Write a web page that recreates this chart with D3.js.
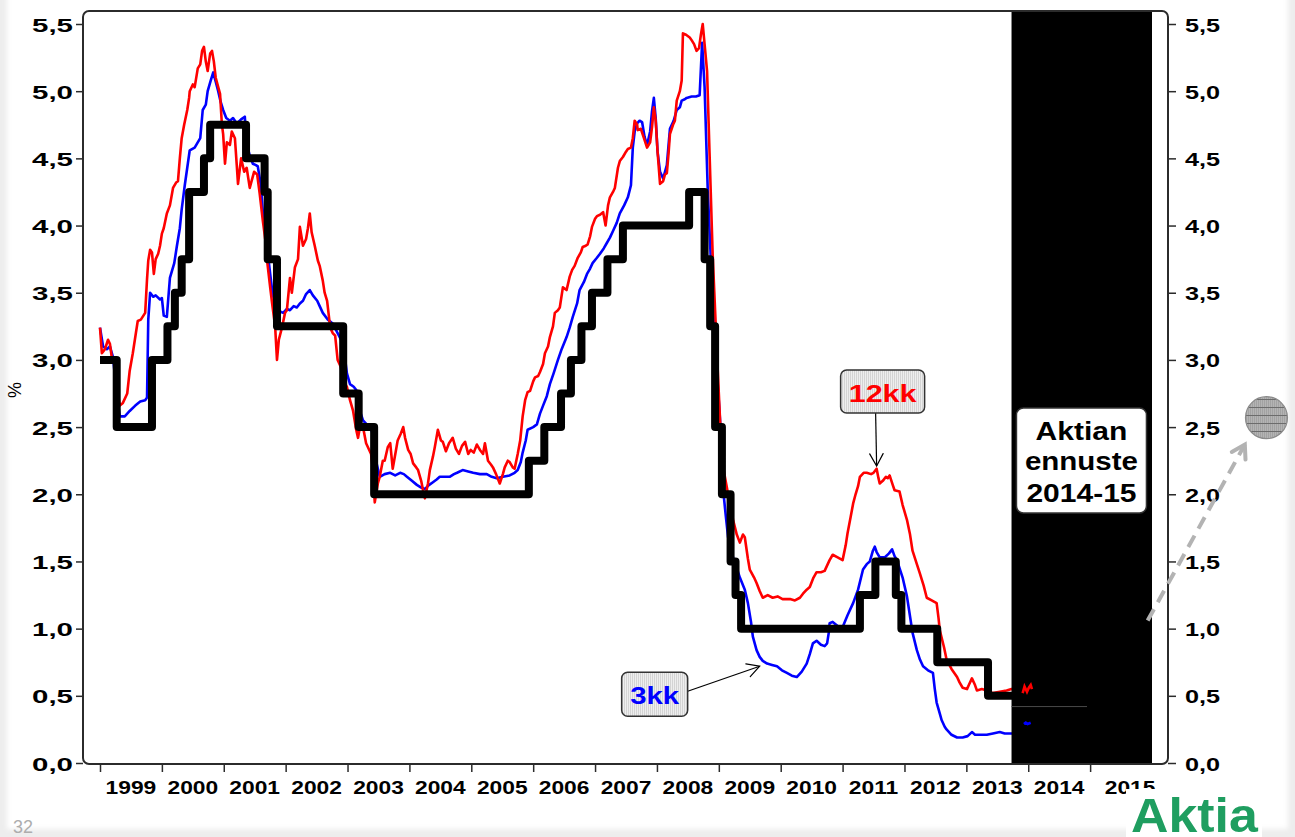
<!DOCTYPE html>
<html>
<head>
<meta charset="utf-8">
<script src="https://cdn.jsdelivr.net/npm/d3@7"></script>
<style>
  html, body { margin: 0; padding: 0; background: #eeeeee; }
  svg { display: block; }
  text { font-family: "Liberation Sans", Arial, Helvetica, sans-serif; }
</style>
</head>
<body>
<svg id="chart" width="1295" height="837"></svg>
<script>
// ---- data (time as decimal years, rates in %) ----
const years = [1999, 2000, 2001, 2002, 2003, 2004, 2005, 2006, 2007, 2008, 2009, 2010, 2011, 2012, 2013, 2014, 2015];
const yTicks = [0, 0.5, 1, 1.5, 2, 2.5, 3, 3.5, 4, 4.5, 5, 5.5];

// 3-month Euribor
const euribor3m = [
  [1999.00,3.24],[1999.05,3.10],[1999.11,3.08],[1999.16,3.10],[1999.21,3.02],[1999.27,2.75],[1999.32,2.58],[1999.40,2.58],[1999.48,2.62],[1999.57,2.66],[1999.65,2.69],[1999.73,2.70],[1999.76,2.72],[1999.78,3.30],[1999.81,3.50],[1999.86,3.47],[1999.90,3.48],[1999.97,3.45],
  [2000.00,3.46],[2000.03,3.33],[2000.08,3.32],[2000.13,3.61],[2000.20,3.72],[2000.24,3.84],[2000.29,3.98],[2000.32,4.12],[2000.37,4.30],[2000.41,4.43],[2000.45,4.56],[2000.53,4.58],[2000.62,4.65],[2000.66,4.86],[2000.71,4.90],[2000.74,5.00],[2000.79,5.08],[2000.83,5.14],[2000.87,5.07],[2000.91,5.00],[2000.95,4.92],[2000.99,4.86],
  [2001.04,4.80],[2001.10,4.78],[2001.15,4.80],[2001.21,4.76],[2001.28,4.79],[2001.34,4.81],[2001.37,4.61],[2001.42,4.52],[2001.47,4.46],[2001.52,4.45],[2001.55,4.44],[2001.60,4.30],[2001.63,4.11],[2001.67,3.97],[2001.70,3.84],[2001.75,3.64],[2001.79,3.49],[2001.84,3.40],[2001.91,3.36],[2001.96,3.35],
  [2002.02,3.38],[2002.07,3.37],[2002.13,3.40],[2002.18,3.39],[2002.23,3.42],[2002.28,3.44],[2002.33,3.49],[2002.39,3.52],[2002.44,3.48],[2002.51,3.44],[2002.55,3.40],[2002.60,3.35],[2002.68,3.30],[2002.76,3.27],[2002.84,3.20],[2002.93,3.12],[2002.99,2.90],
  [2003.04,2.82],[2003.10,2.80],[2003.15,2.77],[2003.20,2.62],[2003.25,2.55],[2003.31,2.52],[2003.36,2.50],[2003.41,2.45],[2003.46,2.25],[2003.52,2.13],[2003.60,2.15],[2003.69,2.16],[2003.77,2.14],[2003.85,2.16],[2003.91,2.15],[2003.96,2.13],
  [2004.04,2.10],[2004.12,2.07],[2004.19,2.05],[2004.25,2.04],[2004.32,2.07],[2004.38,2.09],[2004.44,2.11],[2004.49,2.13],[2004.57,2.13],[2004.65,2.13],[2004.72,2.15],[2004.77,2.16],[2004.86,2.18],[2004.95,2.17],
  [2005.03,2.16],[2005.14,2.15],[2005.25,2.15],[2005.33,2.13],[2005.41,2.12],[2005.51,2.13],[2005.62,2.14],[2005.70,2.16],[2005.75,2.18],[2005.80,2.24],[2005.83,2.31],[2005.88,2.40],[2005.91,2.48],
  [2006.00,2.50],[2006.06,2.52],[2006.11,2.60],[2006.16,2.66],[2006.22,2.73],[2006.27,2.82],[2006.33,2.90],[2006.40,3.00],[2006.46,3.08],[2006.54,3.17],[2006.59,3.24],[2006.64,3.32],[2006.71,3.42],[2006.75,3.52],[2006.82,3.58],[2006.87,3.64],[2006.92,3.68],[2006.96,3.72],
  [2007.03,3.76],[2007.08,3.79],[2007.14,3.83],[2007.19,3.87],[2007.24,3.91],[2007.29,3.96],[2007.35,4.02],[2007.40,4.09],[2007.47,4.15],[2007.53,4.21],[2007.58,4.30],[2007.61,4.58],[2007.64,4.70],[2007.68,4.76],[2007.72,4.78],[2007.76,4.77],[2007.80,4.66],[2007.84,4.60],[2007.89,4.70],[2007.92,4.85],[2007.95,4.95],[2007.98,4.80],
  [2008.01,4.55],[2008.05,4.40],[2008.10,4.35],[2008.16,4.45],[2008.21,4.72],[2008.27,4.78],[2008.32,4.86],[2008.37,4.88],[2008.40,4.93],[2008.45,4.94],[2008.48,4.95],[2008.56,4.96],[2008.63,4.96],[2008.69,4.97],[2008.73,5.36],[2008.77,5.03],[2008.82,4.28],[2008.89,3.54],[2008.95,3.05],
  [2009.02,2.55],[2009.06,2.08],[2009.11,1.85],[2009.15,1.68],[2009.23,1.53],[2009.29,1.45],[2009.34,1.38],[2009.42,1.29],[2009.47,1.19],[2009.52,1.05],[2009.55,0.94],[2009.61,0.84],[2009.66,0.79],[2009.71,0.76],[2009.78,0.74],[2009.86,0.73],[2009.94,0.72],
  [2010.02,0.69],[2010.10,0.67],[2010.18,0.65],[2010.26,0.64],[2010.34,0.68],[2010.42,0.74],[2010.47,0.81],[2010.52,0.89],[2010.58,0.91],[2010.65,0.88],[2010.71,0.87],[2010.75,0.89],[2010.78,0.98],[2010.79,1.04],[2010.84,1.05],[2010.92,1.02],
  [2011.00,1.01],[2011.08,1.10],[2011.17,1.19],[2011.25,1.29],[2011.33,1.44],[2011.39,1.48],[2011.44,1.50],[2011.49,1.58],[2011.52,1.61],[2011.55,1.57],[2011.60,1.53],[2011.68,1.53],[2011.75,1.56],[2011.80,1.59],[2011.84,1.54],[2011.88,1.51],[2011.92,1.45],[2011.97,1.38],
  [2012.04,1.24],[2012.09,1.09],[2012.13,0.97],[2012.20,0.84],[2012.25,0.77],[2012.30,0.72],[2012.38,0.69],[2012.46,0.67],[2012.49,0.55],[2012.52,0.45],[2012.57,0.37],[2012.60,0.32],[2012.65,0.27],[2012.68,0.25],[2012.76,0.21],[2012.85,0.19],[2012.94,0.19],
  [2013.02,0.20],[2013.09,0.23],[2013.14,0.21],[2013.22,0.21],[2013.33,0.21],[2013.43,0.22],[2013.54,0.23],[2013.62,0.22],[2013.70,0.22],[2013.78,0.22]
];

// 12-month Euribor
const euribor12m = [
  [1999.00,3.24],[1999.03,3.05],[1999.08,3.08],[1999.13,3.15],[1999.16,3.12],[1999.19,3.02],[1999.23,3.00],[1999.27,2.80],[1999.32,2.66],[1999.37,2.68],[1999.44,2.75],[1999.48,2.92],[1999.53,3.05],[1999.58,3.20],[1999.61,3.29],[1999.66,3.30],[1999.73,3.35],[1999.76,3.60],[1999.78,3.74],[1999.81,3.82],[1999.84,3.80],[1999.87,3.64],[1999.90,3.75],[1999.94,3.79],[1999.97,3.85],
  [2000.00,3.94],[2000.03,3.98],[2000.08,4.09],[2000.13,4.15],[2000.18,4.28],[2000.23,4.32],[2000.26,4.33],[2000.29,4.50],[2000.32,4.65],[2000.36,4.75],[2000.41,4.86],[2000.44,4.95],[2000.45,5.00],[2000.50,5.05],[2000.53,5.03],[2000.58,5.17],[2000.62,5.20],[2000.65,5.30],[2000.68,5.33],[2000.71,5.22],[2000.74,5.15],[2000.78,5.28],[2000.81,5.30],[2000.84,5.22],[2000.87,5.10],[2000.94,4.98],[2000.97,4.75],[2000.99,4.68],
  [2001.02,4.46],[2001.05,4.62],[2001.10,4.60],[2001.13,4.70],[2001.18,4.65],[2001.21,4.45],[2001.23,4.31],[2001.28,4.50],[2001.33,4.40],[2001.37,4.43],[2001.42,4.28],[2001.49,4.40],[2001.54,4.38],[2001.58,4.24],[2001.63,4.04],[2001.67,3.90],[2001.70,3.74],[2001.75,3.54],[2001.79,3.39],[2001.83,3.25],[2001.86,3.00],[2001.89,3.15],[2001.94,3.24],[2001.99,3.35],
  [2002.02,3.37],[2002.07,3.61],[2002.10,3.50],[2002.15,3.69],[2002.20,3.75],[2002.23,3.99],[2002.28,3.85],[2002.33,3.90],[2002.36,3.98],[2002.39,4.09],[2002.42,3.95],[2002.47,3.85],[2002.52,3.74],[2002.55,3.70],[2002.60,3.59],[2002.63,3.50],[2002.67,3.44],[2002.72,3.24],[2002.76,3.20],[2002.80,3.18],[2002.84,3.00],[2002.89,2.95],[2002.93,2.85],[2002.99,2.80],
  [2003.04,2.70],[2003.09,2.62],[2003.14,2.48],[2003.17,2.42],[2003.20,2.50],[2003.25,2.50],[2003.30,2.38],[2003.33,2.35],[2003.38,2.30],[2003.41,2.18],[2003.44,1.94],[2003.49,2.08],[2003.52,2.13],[2003.57,2.25],[2003.60,2.25],[2003.65,2.35],[2003.69,2.38],[2003.73,2.19],[2003.78,2.32],[2003.81,2.40],[2003.86,2.45],[2003.90,2.50],[2003.93,2.42],[2003.98,2.33],
  [2004.02,2.30],[2004.06,2.23],[2004.11,2.20],[2004.14,2.18],[2004.19,2.10],[2004.22,2.03],[2004.25,1.97],[2004.30,2.08],[2004.33,2.18],[2004.38,2.28],[2004.41,2.35],[2004.46,2.48],[2004.51,2.40],[2004.54,2.39],[2004.59,2.32],[2004.64,2.38],[2004.70,2.42],[2004.75,2.34],[2004.80,2.30],[2004.85,2.36],[2004.90,2.39],[2004.95,2.30],[2004.99,2.33],
  [2005.04,2.31],[2005.09,2.37],[2005.14,2.33],[2005.19,2.30],[2005.22,2.38],[2005.27,2.25],[2005.32,2.22],[2005.35,2.20],[2005.40,2.15],[2005.46,2.08],[2005.51,2.15],[2005.54,2.20],[2005.59,2.25],[2005.62,2.24],[2005.67,2.20],[2005.70,2.19],[2005.75,2.30],[2005.79,2.40],[2005.83,2.58],[2005.87,2.70],[2005.91,2.76],[2005.95,2.77],
  [2006.00,2.84],[2006.03,2.87],[2006.08,2.88],[2006.11,2.91],[2006.16,2.97],[2006.19,3.05],[2006.24,3.10],[2006.27,3.17],[2006.32,3.25],[2006.35,3.35],[2006.40,3.37],[2006.43,3.39],[2006.48,3.54],[2006.54,3.52],[2006.59,3.62],[2006.63,3.67],[2006.67,3.70],[2006.72,3.76],[2006.77,3.80],[2006.80,3.84],[2006.85,3.85],[2006.88,3.86],[2006.92,3.92],[2006.95,3.99],
  [2007.00,4.05],[2007.03,4.07],[2007.08,4.08],[2007.13,4.10],[2007.17,4.00],[2007.21,4.15],[2007.24,4.21],[2007.29,4.25],[2007.32,4.28],[2007.37,4.43],[2007.40,4.48],[2007.45,4.51],[2007.50,4.55],[2007.53,4.57],[2007.58,4.58],[2007.61,4.65],[2007.64,4.78],[2007.68,4.75],[2007.69,4.71],[2007.74,4.72],[2007.79,4.65],[2007.84,4.58],[2007.89,4.62],[2007.92,4.73],[2007.95,4.88],[2007.98,4.78],
  [2008.01,4.55],[2008.05,4.31],[2008.10,4.33],[2008.13,4.38],[2008.16,4.39],[2008.19,4.55],[2008.21,4.68],[2008.26,4.75],[2008.29,4.78],[2008.32,4.93],[2008.37,5.00],[2008.40,5.08],[2008.42,5.43],[2008.47,5.42],[2008.53,5.40],[2008.56,5.38],[2008.60,5.35],[2008.64,5.30],[2008.68,5.32],[2008.71,5.42],[2008.74,5.50],[2008.77,5.35],[2008.81,5.15],[2008.85,4.54],[2008.90,3.79],[2008.97,3.05],
  [2009.02,2.55],[2009.05,2.25],[2009.13,2.05],[2009.18,1.92],[2009.23,1.81],[2009.29,1.70],[2009.34,1.64],[2009.39,1.70],[2009.42,1.68],[2009.47,1.52],[2009.50,1.44],[2009.57,1.38],[2009.61,1.34],[2009.66,1.28],[2009.71,1.23],[2009.79,1.25],[2009.87,1.23],[2009.95,1.24],
  [2010.03,1.22],[2010.15,1.22],[2010.23,1.21],[2010.31,1.23],[2010.36,1.26],[2010.42,1.29],[2010.47,1.31],[2010.53,1.38],[2010.58,1.42],[2010.65,1.42],[2010.71,1.43],[2010.76,1.48],[2010.79,1.51],[2010.84,1.55],[2010.92,1.53],
  [2011.00,1.51],[2011.05,1.62],[2011.08,1.71],[2011.13,1.83],[2011.17,1.93],[2011.21,2.00],[2011.25,2.06],[2011.28,2.13],[2011.34,2.16],[2011.39,2.16],[2011.46,2.15],[2011.50,2.16],[2011.55,2.19],[2011.58,2.12],[2011.60,2.08],[2011.65,2.10],[2011.70,2.13],[2011.73,2.12],[2011.76,2.14],[2011.81,2.07],[2011.84,2.03],[2011.92,2.02],[2011.97,1.92],
  [2012.04,1.81],[2012.09,1.70],[2012.13,1.58],[2012.20,1.48],[2012.25,1.41],[2012.31,1.32],[2012.36,1.23],[2012.44,1.21],[2012.52,1.19],[2012.55,1.08],[2012.57,0.99],[2012.64,0.86],[2012.68,0.77],[2012.76,0.70],[2012.85,0.64],[2012.89,0.60],[2012.94,0.56],
  [2013.01,0.55],[2013.04,0.58],[2013.09,0.63],[2013.14,0.58],[2013.17,0.54],[2013.25,0.55],[2013.33,0.54],[2013.43,0.52],[2013.54,0.53],[2013.65,0.54],[2013.73,0.55],[2013.80,0.55]
];

// most recent fixings, printed over the forecast block
const euribor3mLatest  = [[2013.93,0.29],[2013.96,0.30],[2013.99,0.29],[2014.04,0.30]];
const euribor12mLatest = [[2013.91,0.52],[2013.94,0.57],[2013.98,0.53],[2014.01,0.56],[2014.04,0.58],[2014.06,0.55]];

// ECB main refinancing rate (value from the date onwards)
const ecbRate = [
  [1999.00,3.00],[1999.27,2.50],[1999.84,3.00],[2000.09,3.25],[2000.21,3.50],[2000.32,3.75],[2000.44,4.25],[2000.68,4.50],[2000.78,4.75],
  [2001.36,4.50],[2001.66,4.25],[2001.71,3.75],[2001.86,3.25],[2002.93,2.75],[2003.18,2.50],[2003.43,2.00],[2005.93,2.25],[2006.18,2.50],
  [2006.45,2.75],[2006.61,3.00],[2006.78,3.25],[2006.95,3.50],[2007.20,3.75],[2007.45,4.00],[2008.52,4.25],[2008.77,3.75],[2008.86,3.25],
  [2008.94,2.50],[2009.05,2.00],[2009.19,1.50],[2009.27,1.25],[2009.36,1.00],[2011.28,1.25],[2011.53,1.50],[2011.86,1.25],[2011.95,1.00],
  [2012.53,0.75],[2013.35,0.50],[2013.75,0.50]
];

// forecast period block and the level line inside it
const forecastPeriod = [2013.73, 2016.0];
const forecastLevel = [[2013.73,0.42],[2014.95,0.42]];
// forecast marker outside the axis range
const forecastFrom = [2015.93, 1.06];
const forecastTo   = [2017.50, 2.37];
const forecastDot  = [2017.85, 2.57];

// ---- drawing ----
const svg = d3.select("#chart");
const W = 1295, H = 837;
const frame = { left: 83, right: 1168, top: 11, bottom: 764 };

const x = d3.scaleLinear().domain([1999, 2016]).range([100, 1152]);
const y = d3.scaleLinear().domain([0, 5.5]).range([763, 24]);
const fmt = d => d.toFixed(1).replace(".", ",");

const defs = svg.append("defs");
defs.append("filter").attr("id", "soft")
  .append("feGaussianBlur").attr("stdDeviation", 2.5);

// fine texture for the callout boxes
const hatch = defs.append("pattern").attr("id", "boxFill")
  .attr("patternUnits", "userSpaceOnUse").attr("width", 2).attr("height", 2);
hatch.append("rect").attr("width", 2).attr("height", 2).attr("fill", "#eeeeee");
hatch.append("rect").attr("width", 1).attr("height", 2).attr("fill", "#d4d4d4");

// texture for the forecast globe
const globe = defs.append("pattern").attr("id", "globeFill")
  .attr("patternUnits", "userSpaceOnUse").attr("width", 2).attr("height", 8);
globe.append("rect").attr("width", 2).attr("height", 8).attr("fill", "#b4b4b4");
globe.append("rect").attr("width", 1).attr("height", 8).attr("fill", "#a2a2a2");
globe.append("rect").attr("y", 7).attr("width", 2).attr("height", 1).attr("fill", "#6c6c6c");

// slide background
svg.append("rect").attr("width", W).attr("height", H).attr("fill", "#ededed");
svg.append("rect").attr("x", 7).attr("y", -20).attr("width", 1281).attr("height", 849)
  .attr("fill", "#ffffff").attr("filter", "url(#soft)");

function sText(g, str, px, py, o) {
  return g.append("text")
    .attr("transform", `translate(${px},${py}) scale(${o.sx || 1},1)`)
    .attr("text-anchor", o.anchor || "middle")
    .attr("font-size", o.size)
    .attr("font-weight", o.weight || "bold")
    .attr("fill", o.fill || "#000")
    .text(str);
}

function openArrow(g, x1, y1, x2, y2, o) {
  const ln = g.append("line").attr("x1", x1).attr("y1", y1).attr("x2", x2).attr("y2", y2)
    .attr("stroke", o.color).attr("stroke-width", o.width);
  if (o.dash) ln.attr("stroke-dasharray", o.dash);
  const a = Math.atan2(y2 - y1, x2 - x1), sp = o.spread || 0.45, h = o.head || 14;
  const p1 = [x2 - h * Math.cos(a - sp), y2 - h * Math.sin(a - sp)];
  const p2 = [x2 - h * Math.cos(a + sp), y2 - h * Math.sin(a + sp)];
  g.append("path").attr("d", `M${p1[0]},${p1[1]}L${x2},${y2}L${p2[0]},${p2[1]}`)
    .attr("fill", "none").attr("stroke", o.color).attr("stroke-width", o.width)
    .attr("stroke-linecap", "round");
}

const plot = svg.append("g");

// series
const line = d3.line().x(d => x(d[0])).y(d => y(d[1]));
const stepLine = d3.line().x(d => x(d[0])).y(d => y(d[1])).curve(d3.curveStepAfter);

plot.append("path").datum(euribor3m).attr("d", line)
  .attr("fill", "none").attr("stroke", "#0000ff").attr("stroke-width", 2.6).attr("stroke-linejoin", "round");
plot.append("path").datum(euribor12m).attr("d", line)
  .attr("fill", "none").attr("stroke", "#ff0000").attr("stroke-width", 2.6).attr("stroke-linejoin", "round");
plot.append("path").datum(ecbRate).attr("d", stepLine)
  .attr("fill", "none").attr("stroke", "#000000").attr("stroke-width", 8).attr("stroke-linejoin", "round");

// forecast block
plot.append("rect")
  .attr("x", x(forecastPeriod[0])).attr("y", frame.top)
  .attr("width", x(forecastPeriod[1]) - x(forecastPeriod[0]))
  .attr("height", frame.bottom - frame.top)
  .attr("fill", "#000");
plot.append("path").datum(forecastLevel).attr("d", line)
  .attr("fill", "none").attr("stroke", "#4a4a4a").attr("stroke-width", 1);
plot.append("path").datum(euribor12mLatest).attr("d", line)
  .attr("fill", "none").attr("stroke", "#ff0000").attr("stroke-width", 2.6);
plot.append("path").datum(euribor3mLatest).attr("d", line)
  .attr("fill", "none").attr("stroke", "#0000ff").attr("stroke-width", 2.6);

// frame
svg.append("rect")
  .attr("x", frame.left).attr("y", frame.top)
  .attr("width", frame.right - frame.left).attr("height", frame.bottom - frame.top)
  .attr("rx", 6).attr("fill", "none").attr("stroke", "#2b2b2b").attr("stroke-width", 2);

// axes
function styleAxis(g) {
  g.attr("font-family", null).attr("font-size", null);
  g.select(".domain").remove();
  g.selectAll(".tick line").attr("stroke", "#2b2b2b").attr("stroke-width", 1.5);
}
const axL = svg.append("g").attr("transform", `translate(${frame.left},0)`)
  .call(d3.axisLeft(y).tickValues(yTicks).tickSize(7).tickFormat(fmt));
styleAxis(axL);
axL.selectAll(".tick text")
  .attr("x", null).attr("dy", null)
  .attr("transform", "translate(-10,7) scale(1.55,1)")
  .attr("text-anchor", "end").attr("font-size", 19).attr("font-weight", "bold").attr("fill", "#000");

const axR = svg.append("g").attr("transform", `translate(${frame.right},0)`)
  .call(d3.axisRight(y).tickValues(yTicks).tickSize(8).tickFormat(fmt));
styleAxis(axR);
axR.selectAll(".tick text")
  .attr("x", null).attr("dy", null)
  .attr("transform", "translate(17,7) scale(1.33,1)")
  .attr("text-anchor", "start").attr("font-size", 19).attr("font-weight", "bold").attr("fill", "#000");

const axB = svg.append("g").attr("transform", `translate(0,${frame.bottom})`)
  .call(d3.axisBottom(x).tickValues(years).tickSize(8).tickFormat(""));
styleAxis(axB);

// year labels sit between the year ticks
const yearG = svg.append("g");
years.forEach(yr => {
  const nudge = yr === 2015 ? 9 : 0;
  sText(yearG, String(yr), x(yr + 0.5) + nudge, 794, { size: 19, sx: 1.2 });
});

// y-axis title
svg.append("text").attr("transform", "translate(21,390) rotate(-90)")
  .attr("text-anchor", "middle").attr("font-size", 18).attr("fill", "#000").text("%");

// callouts
const notes = svg.append("g");

// 12kk
const tip12 = [x(2011.55), y(2.21)];
openArrow(notes, tip12[0] - 1, tip12[1] - 53, tip12[0], tip12[1], { color: "#000", width: 1.2, head: 14, spread: 0.5 });
notes.append("rect").attr("x", tip12[0] - 36).attr("y", tip12[1] - 96).attr("width", 84).attr("height", 43)
  .attr("rx", 6).attr("fill", "url(#boxFill)").attr("stroke", "#333").attr("stroke-width", 1.5);
sText(notes, "12kk", tip12[0] + 6, tip12[1] - 64, { size: 23.5, sx: 1.3, fill: "#ff0000" });

// 3kk
const tip3 = [x(2009.66), y(0.72)];
openArrow(notes, tip3[0] - 72, tip3[1] + 25, tip3[0], tip3[1], { color: "#000", width: 1.2, head: 14, spread: 0.5 });
notes.append("rect").attr("x", tip3[0] - 138).attr("y", tip3[1] + 6).attr("width", 66).attr("height", 44)
  .attr("rx", 6).attr("fill", "url(#boxFill)").attr("stroke", "#333").attr("stroke-width", 1.5);
sText(notes, "3kk", tip3[0] - 105, tip3[1] + 38, { size: 23.5, sx: 1.25, fill: "#0000ff" });

// forecast label
const fx = x(2014.86);
notes.append("rect").attr("x", fx - 65).attr("y", 408).attr("width", 130).attr("height", 105)
  .attr("rx", 7).attr("fill", "#fff").attr("stroke", "#333").attr("stroke-width", 1.5);
sText(notes, "Aktian", fx, 440, { size: 25, sx: 1.2 });
sText(notes, "ennuste", fx, 470, { size: 25, sx: 1.18 });
sText(notes, "2014-15", fx, 502, { size: 25, sx: 1.2 });

// dashed arrow towards the forecast marker
openArrow(notes, x(forecastFrom[0]), y(forecastFrom[1]), x(forecastTo[0]), y(forecastTo[1]),
  { color: "#b3b3b3", width: 4, dash: "13 8", head: 15, spread: 0.55 });
notes.append("circle").attr("cx", x(forecastDot[0])).attr("cy", y(forecastDot[1])).attr("r", 21)
  .attr("fill", "url(#globeFill)").attr("stroke", "#8a8a8a").attr("stroke-width", 1.2);

// footer
svg.append("rect").attr("x", 1126).attr("y", 789).attr("width", 136).attr("height", 48).attr("fill", "#fff");
sText(svg, "Aktia", 1131, 832, { size: 48, sx: 1.08, anchor: "start", fill: "#1f9e60", weight: "bold" });
sText(svg, "32", 13, 833, { size: 18, anchor: "start", fill: "#adadad", weight: "normal" });
</script>
</body>
</html>
